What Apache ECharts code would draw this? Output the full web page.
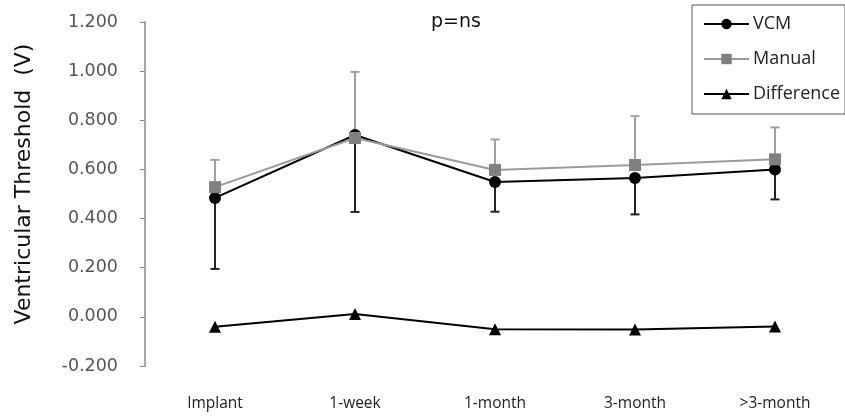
<!DOCTYPE html>
<html><head><meta charset="utf-8">
<script src="https://cdn.jsdelivr.net/npm/echarts@6/dist/echarts.min.js"></script>
<style>html,body{margin:0;padding:0;background:#fff}#c{width:845px;height:420px}</style>
</head><body><div id="c"></div>
<script>
var categories = ['Implant', '1-week', '1-month', '3-month', '>3-month'];
var vcm = [0.484, 0.740, 0.549, 0.565, 0.600];
var vcmLower = [0.195, 0.427, 0.428, 0.417, 0.478];
var manual = [0.528, 0.728, 0.598, 0.618, 0.641];
var manualUpper = [0.639, 0.997, 0.722, 0.817, 0.771];
var difference = [-0.040, 0.012, -0.050, -0.051, -0.039];
var yTicks = {min: -0.2, max: 1.2, interval: 0.2};

function errData(vals, bounds) {
  return vals.map(function (v, i) { return [i, v, bounds[i]]; });
}
function errRender(color) {
  return function (params, api) {
    var p1 = api.coord([api.value(0), api.value(1)]);
    var p2 = api.coord([api.value(0), api.value(2)]);
    var hw = 4.5;
    var st = {stroke: color, lineWidth: 2};
    return {type: 'group', children: [
      {type: 'line', shape: {x1: p1[0], y1: p1[1], x2: p2[0], y2: p2[1]}, style: st},
      {type: 'line', shape: {x1: p2[0] - hw, y1: p2[1], x2: p2[0] + hw, y2: p2[1]}, style: st}
    ]};
  };
}

var chart = echarts.init(document.getElementById('c'), null, {renderer: 'canvas'});
chart.setOption({
  animation: false,
  title: {text: 'p=ns', left: 451, top: 8, textAlign: 'center',
    textStyle: {fontFamily: 'DejaVu Sans', fontSize: 19, fontWeight: 'normal', color: '#111'}},
  legend: {
    left: 692, top: 5, orient: 'vertical', itemGap: 17, padding: [10, 5, 11, 11],
    borderColor: '#555', borderWidth: 1, itemWidth: 45, itemHeight: 13,
    textStyle: {fontFamily: 'Open Sans', fontSize: 18, color: '#222', padding: [0, 0, 0, -1]},
    data: ['VCM', 'Manual', 'Difference']
  },
  grid: {left: 145, right: 0, top: 22, bottom: 54},
  xAxis: {
    type: 'category', data: categories, boundaryGap: true,
    axisLine: {show: false}, axisTick: {show: false},
    axisLabel: {margin: 30, fontFamily: 'Open Sans', fontSize: 15.5, color: '#222'}
  },
  yAxis: {
    type: 'value', min: yTicks.min, max: yTicks.max, interval: yTicks.interval,
    name: 'Ventricular Threshold  (V)', nameLocation: 'middle', nameGap: 110,
    nameTextStyle: {fontFamily: 'DejaVu Sans', fontSize: 22, color: '#111', padding: [0, 0, 0, 20]},
    axisLine: {show: true, lineStyle: {color: '#888', width: 1.5}},
    axisTick: {show: true, inside: false, length: 5, lineStyle: {color: '#888'}},
    splitLine: {show: false},
    axisLabel: {margin: 27, fontFamily: 'DejaVu Sans', fontSize: 17.5, color: '#555',
      formatter: function (v) { return v.toFixed(3); }}
  },
  series: [
    {type: 'custom', name: 'vcmErr', data: errData(vcm, vcmLower), renderItem: errRender('#222'), z: 1, silent: true},
    {type: 'custom', name: 'manErr', data: errData(manual, manualUpper), renderItem: errRender('#a0a0a0'), z: 1, silent: true},
    {type: 'line', name: 'Manual', data: manual, symbol: 'rect', symbolSize: 12,
      lineStyle: {color: '#9a9a9a', width: 2}, itemStyle: {color: '#808080'}, z: 3},
    {type: 'line', name: 'VCM', data: vcm, symbol: 'circle', symbolSize: 12,
      lineStyle: {color: '#000', width: 2}, itemStyle: {color: '#000'}, z: 2},
    {type: 'line', name: 'Difference', data: difference, symbol: 'triangle', symbolSize: 12,
      lineStyle: {color: '#000', width: 2}, itemStyle: {color: '#000'}, z: 2}
  ]
});
</script></body></html>
